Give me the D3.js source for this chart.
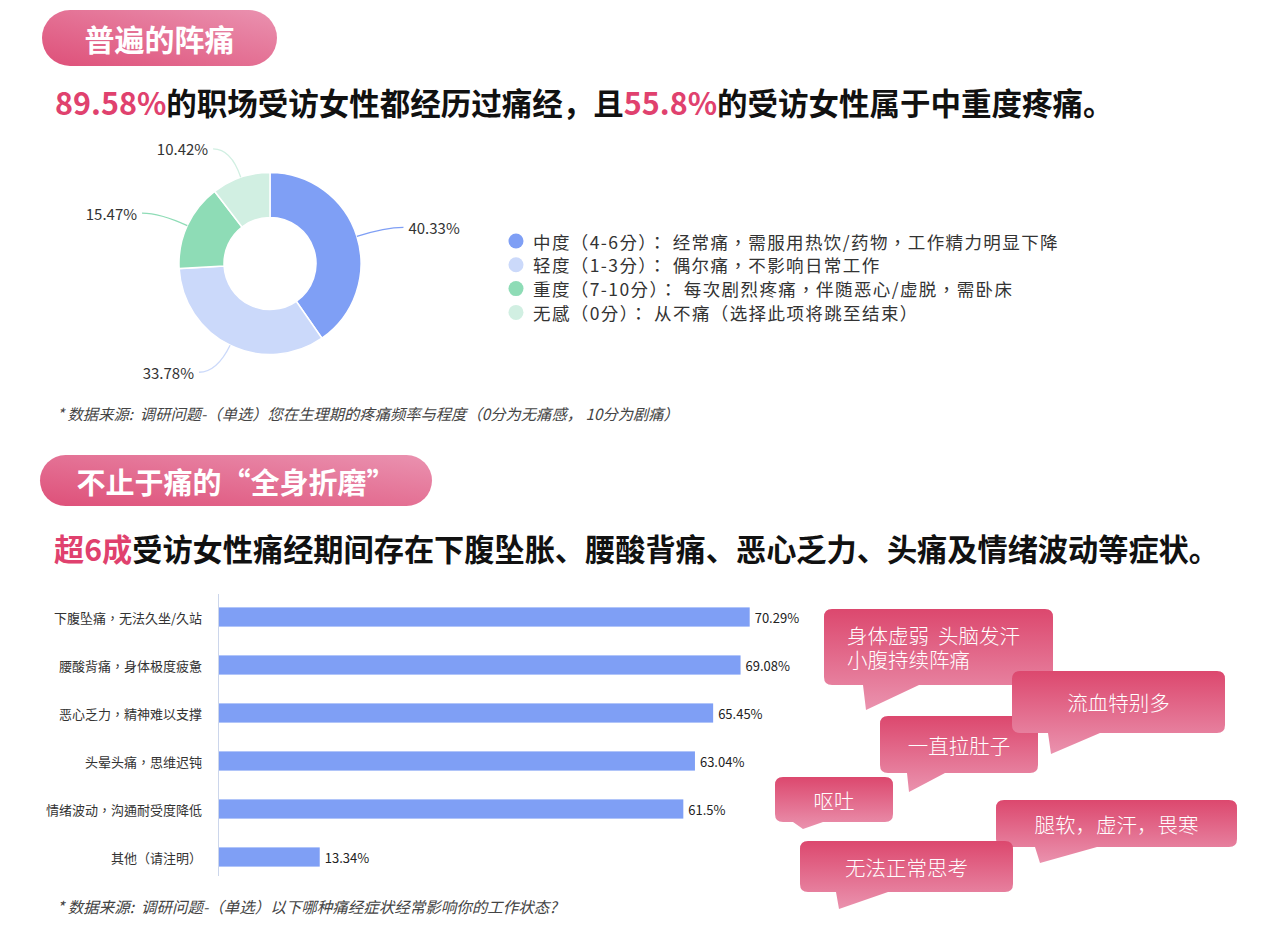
<!DOCTYPE html>
<html><head><meta charset="utf-8">
<script src="https://cdn.jsdelivr.net/npm/d3@7"></script>
<style>
html,body{margin:0;padding:0;background:#fff;}
svg{display:block;font-family:"Noto Sans CJK SC","Noto Sans",sans-serif;}
.tc{font-family:"Noto Sans CJK TC","Noto Sans CJK SC",sans-serif;}
.pre{white-space:pre;}
</style></head>
<body>
<svg id="chart" width="1280" height="934"></svg>
<script>
// ---------- data ----------
const sectionTitles = ["普遍的阵痛", "不止于痛的“全身折磨”"];
const headline1 = [["89.58%", true], ["的职场受访女性都经历过痛经，且", false], ["55.8%", true], ["的受访女性属于中重度疼痛。", false]];
const headline2 = [["超6成", true], ["受访女性痛经期间存在下腹坠胀、腰酸背痛、恶心乏力、头痛及情绪波动等症状。", false]];
const painLevels = ["中度（4-6分）： 经常痛，需服用热饮/药物，工作精力明显下降", "轻度（1-3分）： 偶尔痛，不影响日常工作", "重度（7-10分）： 每次剧烈疼痛，伴随恶心/虚脱，需卧床", "无感（0分）： 从不痛（选择此项将跳至结束）"];
const painShares = [40.33, 33.78, 15.47, 10.42];
const painColors = ["#7f9ff5", "#cbd9fa", "#8edcb6", "#d1efe2"];
const source1 = "* 数据来源:  调研问题-（单选）您在生理期的疼痛频率与程度（0分为无痛感， 10分为剧痛）";
const symptoms = ["下腹坠痛，无法久坐/久站", "腰酸背痛，身体极度疲惫", "恶心乏力，精神难以支撑", "头晕头痛，思维迟钝", "情绪波动，沟通耐受度降低", "其他（请注明）"];
const symptomShares = [70.29, 69.08, 65.45, 63.04, 61.5, 13.34];
const source2 = "* 数据来源:  调研问题-（单选）以下哪种痛经症状经常影响你的工作状态?";
const quotes = [["身体虚弱  头脑发汗", "小腹持续阵痛"], ["一直拉肚子"], ["流血特别多"], ["呕吐"], ["腿软，虚汗，畏寒"], ["无法正常思考"]];

// ---------- layout (not data) ----------
const bubbleLayout = [
  {x:824, y:609, w:229, h:76, tail:[39, 42, 95], tip:25, align:"left"},
  {x:880, y:716, w:158, h:57, tail:[27, 29, 65], tip:19},
  {x:1012, y:671, w:213, h:62, tail:[36, 39, 88], tip:21},
  {x:775, y:777, w:118, h:45, tail:[18, 28, 48], tip:7},
  {x:996, y:800, w:241, h:47, tail:[39, 44, 101], tip:16},
  {x:800, y:841, w:213, h:51, tail:[36, 39, 88], tip:17}
];

const svg = d3.select("#chart");
const defs = svg.append("defs");

const pillGrad = defs.append("linearGradient").attr("id","pillGrad")
  .attr("x1","0").attr("y1","1").attr("x2","1").attr("y2","0");
pillGrad.append("stop").attr("offset","0").attr("stop-color","#de5079");
pillGrad.append("stop").attr("offset","1").attr("stop-color","#ea92b0");

const bubGrad = defs.append("linearGradient").attr("id","bubGrad")
  .attr("x1","0").attr("y1","0").attr("x2","0").attr("y2","1");
bubGrad.append("stop").attr("offset","0").attr("stop-color","#dc486e");
bubGrad.append("stop").attr("offset","1").attr("stop-color","#ea92ae");

// ---------- section pills ----------
const pills = [{x:42, y:10, w:235, h:56, fs:30}, {x:40, y:455, w:392, h:51, fs:29}];
pills.forEach((p, i) => {
  svg.append("rect").attr("x", p.x).attr("y", p.y).attr("width", p.w).attr("height", p.h)
    .attr("rx", p.h/2).attr("fill", "url(#pillGrad)");
  svg.append("text").attr("x", p.x + p.w/2).attr("y", p.y + p.h/2)
    .attr("text-anchor","middle").attr("dominant-baseline","central")
    .attr("fill","#fff").attr("font-size", p.fs).attr("font-weight", 700)
    .text(sectionTitles[i]);
});

// ---------- headlines ----------
function headline(parts, x, y, fs) {
  const t = svg.append("text").attr("x", x).attr("y", y)
    .attr("dominant-baseline","central").attr("font-size", fs).attr("font-weight", 700);
  parts.forEach(([s, hi]) => t.append("tspan").attr("fill", hi ? "#e0416e" : "#111").text(s));
}
headline(headline1, 55, 102, 30.5);
headline(headline2, 54, 548, 30.2);

// ---------- donut ----------
const cx = 270, cy = 263.5, rIn = 46, rOut = 91;
const pie = d3.pie().sort(null).value(d => d);
const arcs = pie(painShares);
const arcGen = d3.arc().innerRadius(rIn).outerRadius(rOut);
const g = svg.append("g").attr("transform", `translate(${cx},${cy})`);
g.selectAll("path.slice").data(arcs).join("path").attr("class","slice")
  .attr("d", arcGen).attr("fill", (d,i) => painColors[i])
  .attr("stroke","#fff").attr("stroke-width", 1.5);

const len1 = 30, len2 = 18;
arcs.forEach((d, i) => {
  const a = (d.startAngle + d.endAngle) / 2;
  const p1 = [Math.sin(a) * rOut, -Math.cos(a) * rOut];
  const p2 = [Math.sin(a) * (rOut + len1), -Math.cos(a) * (rOut + len1)];
  const right = Math.sin(a) > 0;
  const p3 = [p2[0] + (right ? len2 : -len2), p2[1]];
  g.append("path").attr("d", `M${p1[0]},${p1[1]}Q${p2[0]},${p2[1]} ${p3[0]},${p3[1]}`)
    .attr("fill","none").attr("stroke", painColors[i]).attr("stroke-width", 1.3);
  g.append("text").attr("x", p3[0] + (right ? 5 : -5)).attr("y", p3[1])
    .attr("text-anchor", right ? "start" : "end").attr("dominant-baseline","central")
    .attr("font-size", 15).attr("fill","#333").text(d3.format(".2f")(d.data) + "%");
});

// legend
const lg = svg.append("g");
painLevels.forEach((s, i) => {
  const y = 241 + i * 23.8;
  lg.append("circle").attr("cx", 516).attr("cy", y).attr("r", 7.5).attr("fill", painColors[i]);
  lg.append("text").attr("class","tc").attr("x", 533).attr("y", y).attr("dominant-baseline","central")
    .attr("font-size", 17.5).attr("letter-spacing", 1.4).attr("fill","#333").text(s);
});

// sources
[[source1, 413, 15.3], [source2, 906, 15.5]].forEach(([s, y, fs]) => {
  svg.append("text").attr("class","pre").attr("x", 57).attr("y", y).attr("dominant-baseline","central")
    .attr("font-size", fs).attr("font-style","italic").attr("fill","#444").text(s);
});

// ---------- bar chart ----------
const x = d3.scaleLinear().domain([0, 80]).range([219, 823]);
const y = d3.scaleBand().domain(symptoms).range([593, 881]).paddingInner(0.6).paddingOuter(0.3);
const bg = svg.append("g");
bg.append("line").attr("x1", 218.5).attr("x2", 218.5).attr("y1", 594).attr("y2", 876)
  .attr("stroke","#ccd6eb").attr("stroke-width", 1);
bg.selectAll("rect.bar").data(symptoms).join("rect").attr("class","bar")
  .attr("x", x(0)).attr("y", d => y(d)).attr("height", y.bandwidth())
  .attr("width", (d,i) => x(symptomShares[i]) - x(0)).attr("fill", "#7f9ff5");
bg.selectAll("text.val").data(symptoms).join("text").attr("class","val")
  .attr("x", (d,i) => x(symptomShares[i]) + 5).attr("y", d => y(d) + y.bandwidth()/2)
  .attr("dominant-baseline","central").attr("font-size", 13).attr("fill","#222")
  .text((d,i) => symptomShares[i] + "%");
bg.selectAll("text.cat").data(symptoms).join("text").attr("class","cat tc")
  .attr("x", 202).attr("y", d => y(d) + y.bandwidth()/2).attr("text-anchor","end")
  .attr("dominant-baseline","central").attr("font-size", 13).attr("fill","#333")
  .text(d => d);

// ---------- speech bubbles ----------
quotes.forEach((lines, i) => {
  const b = bubbleLayout[i], r = 8;
  const [t0, t1, t2] = b.tail;
  const bx = b.x, by = b.y, w = b.w, h = b.h;
  const path = `M${bx + r},${by} H${bx + w - r} Q${bx + w},${by} ${bx + w},${by + r}
    V${by + h - r} Q${bx + w},${by + h} ${bx + w - r},${by + h}
    H${bx + t2} L${bx + t1},${by + h + b.tip} L${bx + t0},${by + h}
    H${bx + r} Q${bx},${by + h} ${bx},${by + h - r} V${by + r} Q${bx},${by} ${bx + r},${by} Z`;
  svg.append("path").attr("d", path).attr("fill", "url(#bubGrad)");
  const left = b.align === "left";
  const t = svg.append("text").attr("class","pre").attr("fill","#fff").attr("font-size", 20.5).attr("font-weight", 300)
    .attr("text-anchor", left ? "start" : "middle");
  const lh = 23.5;
  lines.forEach((s, k) => {
    t.append("tspan").attr("x", left ? bx + 23 : bx + w/2)
      .attr("y", by + h/2 + (k - (lines.length - 1)/2) * lh)
      .attr("dominant-baseline","central").text(s);
  });
});
</script>
</body></html>
